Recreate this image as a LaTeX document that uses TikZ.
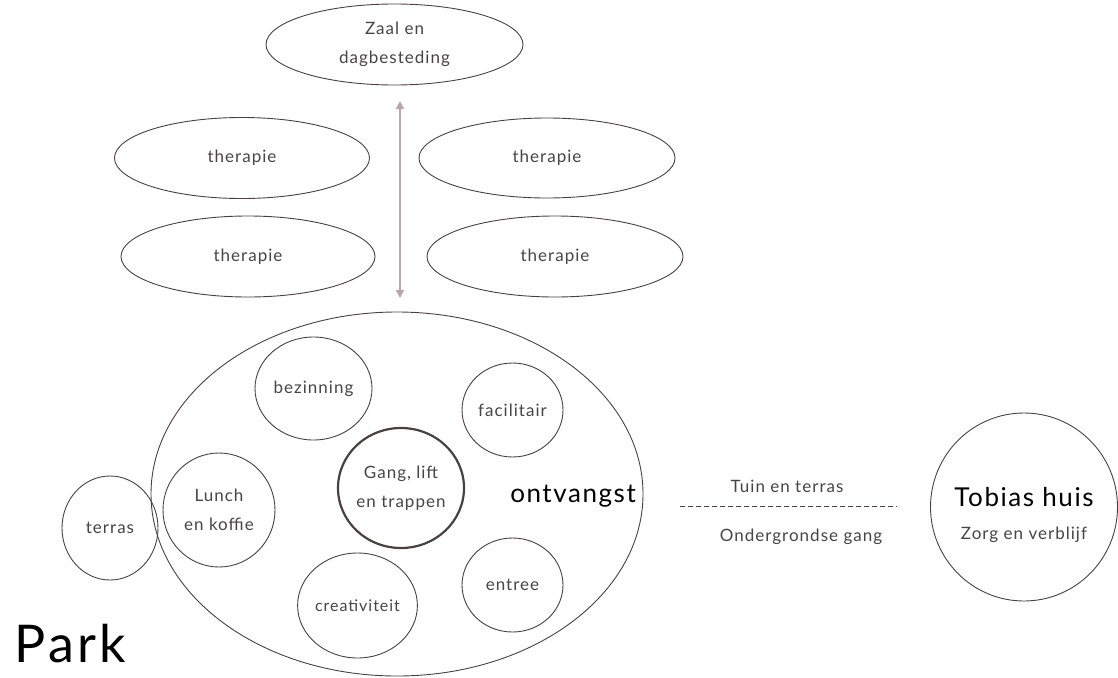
\documentclass[tikz,border=0pt]{standalone}
\usepackage{fontspec}
\setmainfont{Lato}[LetterSpace=6]
\usetikzlibrary{shapes.geometric,arrows.meta}
\definecolor{ln}{HTML}{4A4040}
\definecolor{tx}{HTML}{474444}
\definecolor{arr}{HTML}{B8A8A8}
\tikzset{
  oval/.style={ellipse,draw=ln,line width=0.9pt,inner sep=0pt,text=tx,align=center,font=\fontsize{17}{29}\selectfont},
  room/.style={oval},
  lbl/.style={text=tx,inner sep=0pt,font=\fontsize{17}{25}\selectfont},
}
\begin{document}
\begin{tikzpicture}[x=1pt,y=-1pt]
\useasboundingbox (0,0) rectangle (1118,677);
% top group
\node[oval,minimum width=257pt,minimum height=81pt] (zaal) at (394.5,44.5) {Zaal en\\dagbesteding};
\node[oval,minimum width=255pt,minimum height=81pt] (t1) at (242,158) {therapie};
\node[oval,minimum width=256pt,minimum height=80pt] (t2) at (547,158) {therapie};
\node[oval,minimum width=254pt,minimum height=81pt] (t3) at (248,256.5) {therapie};
\node[oval,minimum width=256pt,minimum height=81pt] (t4) at (555,256.5) {therapie};
\coordinate (aT) at (400,101);
\coordinate (aB) at (400,298);
\draw[arr,line width=1.3pt,{Triangle[width=8pt,length=8pt]}-{Triangle[width=8pt,length=8pt]}] (aT) -- (aB);
% big ellipse
\node[oval,minimum width=492pt,minimum height=364pt] (ont) at (397,494) {};
\node[lbl,text=black,font=\fontsize{26}{30}\selectfont,anchor=east] (ontl) at (636,496) {ontvangst};
\node[room,minimum width=117pt,minimum height=103pt] (bez) at (313.5,388.5) {bezinning};
\node[room,minimum width=101pt,minimum height=94pt] (fac) at (512.5,410) {facilitair};
\node[room,line width=2.2pt,minimum width=118pt,minimum height=120pt] (gang) at (401,488) {Gang, lift\\en trappen};
\node[room,minimum width=112pt,minimum height=114pt] (lunch) at (219,510) {Lunch\\en koffie};
\node[room,minimum width=105pt,minimum height=105pt,font=\fontsize{16}{20}\selectfont] (cre) at (357.5,605.5) {creativiteit};
\node[room,minimum width=101pt,minimum height=94pt] (ent) at (512.5,585) {entree};
\node[room,minimum width=96pt,minimum height=104pt] (ter) at (110,528) {terras};
\node[lbl,text=black,font=\fontsize{52}{56}\selectfont] (park) at (70,644) {Park};
% link
\coordinate (dL) at (680,506);
\coordinate (dR) at (897,506);
\draw[ln,line width=1pt,dash pattern=on 5pt off 3pt] (dL) -- (dR);
\node[lbl] (tuin) at (787,486) {Tuin en terras};
\node[lbl] (onder) at (801,537) {Ondergrondse gang};
% Tobias
\node[oval,minimum width=187pt,minimum height=188pt] (tob) at (1024,507) {};
\node[lbl,text=black,font=\fontsize{26}{30}\selectfont] (tobl) at (1024,497) {Tobias huis};
\node[lbl] (zorg) at (1024,535) {Zorg en verblijf};
\end{tikzpicture}
\end{document}
